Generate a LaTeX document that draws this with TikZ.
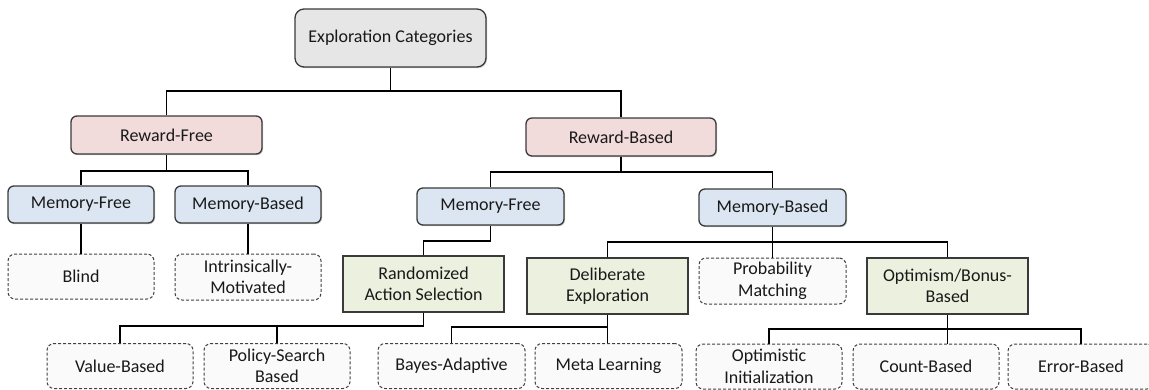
\documentclass[tikz,border=0pt]{standalone}
\usepackage{fontspec}
\setmainfont{Carlito}
\usetikzlibrary{shadows}
\definecolor{rootfill}{HTML}{E6E6E6}
\definecolor{pinkfill}{HTML}{F2DCDB}
\definecolor{bluefill}{HTML}{DCE6F2}
\definecolor{greenfill}{HTML}{EBF1DE}
\definecolor{dashfill}{HTML}{FAFAFA}
\definecolor{edge}{HTML}{3A3A3A}
\tikzset{
  basebox/.style={draw=edge, line width=1.3pt, align=center, inner sep=0pt,
    font=\fontsize{18}{21.5}\selectfont, text=black!90},
  roundbox/.style={basebox, rounded corners=6pt,
    drop shadow={shadow xshift=1pt, shadow yshift=-1.2pt, opacity=0.35, fill=black!60}},
  rootbox/.style={roundbox, fill=rootfill, minimum width=191pt, minimum height=58pt, rounded corners=9pt},
  pinkbox/.style={roundbox, fill=pinkfill, minimum width=191pt, minimum height=38pt},
  bluebox/.style={roundbox, fill=bluefill, minimum width=146pt, minimum height=37pt},
  greenbox/.style={basebox, fill=greenfill, minimum width=161pt, minimum height=56pt,
    drop shadow={shadow xshift=1pt, shadow yshift=-1.2pt, opacity=0.35, fill=black!60}},
  leafbox/.style={basebox, draw=black!75, fill=dashfill, dash pattern=on 3pt off 2pt,
    line width=1pt, rounded corners=7pt, minimum width=146pt, minimum height=45pt},
  link/.style={draw=black, line width=1.9pt}
}
\begin{document}
\begin{tikzpicture}[x=1pt,y=-1pt]
\useasboundingbox (0,0) rectangle (1149,389);
% level 0
\node[rootbox] (root) at (390.5,38) {Exploration Categories};
% level 1
\node[pinkbox] (rf) at (166.5,135) {Reward-Free};
\node[pinkbox, minimum width=190pt] (rb) at (621,137) {Reward-Based};
% level 2
\node[bluebox] (mf1) at (81,204.5) {Memory-Free};
\node[bluebox] (mb1) at (248,204.5) {Memory-Based};
\node[bluebox, minimum width=147pt] (mf2) at (490.5,206.5) {Memory-Free};
\node[bluebox, minimum width=147pt] (mb2) at (772.5,207.5) {Memory-Based};
% level 3
\node[leafbox] (blind) at (81,276.5) {Blind};
\node[leafbox, minimum height=46pt] (intr) at (248,277) {Intrinsically-\\Motivated};
\node[greenbox] (ras) at (423.5,284) {Randomized\\Action Selection};
\node[greenbox] (de) at (607.5,286) {Deliberate\\Exploration};
\node[leafbox, minimum width=147pt, minimum height=46pt] (pm) at (772.5,281) {Probability\\Matching};
\node[greenbox] (ob) at (947.5,286) {Optimism/Bonus-\\Based};
% level 4
\node[leafbox] (vb) at (120,366) {Value-Based};
\node[leafbox] (ps) at (277,366) {Policy-Search\\Based};
\node[leafbox, minimum width=147pt] (ba) at (451.5,366) {Bayes-Adaptive};
\node[leafbox, minimum width=147pt] (ml) at (608.5,366) {Meta Learning};
\node[leafbox] (oi) at (769,366.5) {Optimistic\\Initialization};
\node[leafbox] (cb) at (926,366.5) {Count-Based};
\node[leafbox] (eb) at (1081,366.5) {Error-Based};
% bus coordinates
\coordinate (b0) at (0,91);
\coordinate (b1) at (0,171);
\coordinate (b2) at (0,172);
\coordinate (b3) at (0,241);
\coordinate (b4) at (0,242);
\coordinate (b5) at (0,326);
\coordinate (b6) at (0,327);
\coordinate (b7) at (0,329);
% connectors
\draw[link] (root.south) -- (root.south |- b0) -| (rf.north);
\draw[link] (root.south |- b0) -| (rb.north);
\draw[link] (rf.south) -- (rf.south |- b1) -| (mf1.north);
\draw[link] (rf.south |- b1) -| (mb1.north);
\draw[link] (mf1.south) -- (blind.north);
\draw[link] (mb1.south) -- (intr.north);
\draw[link] (rb.south) -- (rb.south |- b2) -| (mf2.north);
\draw[link] (rb.south |- b2) -| (mb2.north);
\draw[link] (mf2.south) -- (mf2.south |- b3) -| (ras.north);
\draw[link] (mb2.south) -- (mb2.south |- b4) -| (de.north);
\draw[link] (mb2.south |- b4) -| (ob.north);
\draw[link] (mb2.south |- b4) -- (pm.north);
\draw[link] (ras.south) -- (ras.south |- b5) -| (vb.north);
\draw[link] (ras.south |- b5) -| (ps.north);
\draw[link] (de.south) -- (de.south |- b6) -| (ba.north);
\draw[link] (de.south |- b6) -- (ml.north -| de.south);
\draw[link] (ob.south) -- (ob.south |- b7) -| (oi.north);
\draw[link] (ob.south |- b7) -| (eb.north);
\draw[link] (ob.south |- b7) -- (cb.north -| ob.south);
\end{tikzpicture}
\end{document}
